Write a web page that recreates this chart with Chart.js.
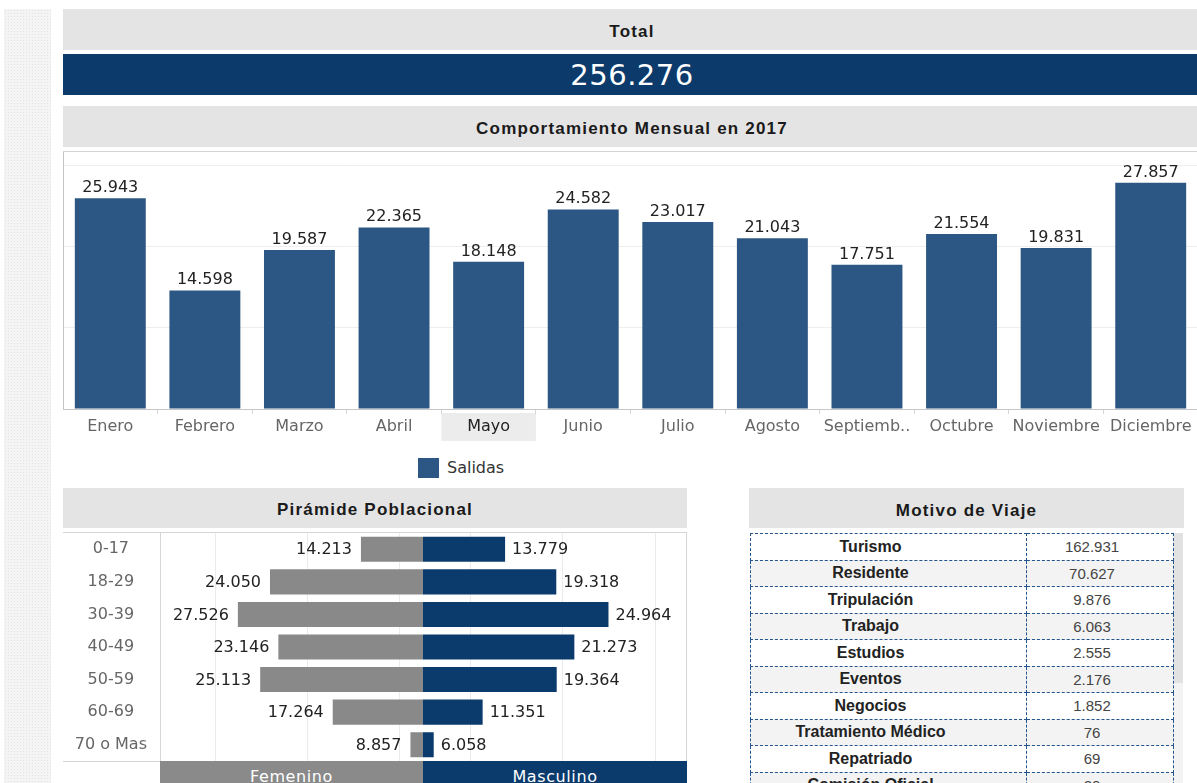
<!DOCTYPE html>
<html>
<head>
<meta charset="utf-8">
<title>Salidas 2017</title>
<script src="https://cdn.jsdelivr.net/npm/chart.js@4.4.1/dist/chart.umd.min.js"></script>
<style>
    body { margin: 0; width: 1197px; height: 783px; overflow: hidden; position: relative; background: #fff; font-family: "DejaVu Sans", sans-serif; }
    .abs { position: absolute; }
    .strip { left: 4px; top: 9px; width: 47px; height: 780px; background-color: #f4f4f4;
        background-image: radial-gradient(#e3e3e3 0.8px, transparent 1px); background-size: 3px 3px; }
    .hdr { background: #e4e4e4; font-family: "Liberation Sans", Arial, sans-serif; font-weight: bold;
        font-size: 17px; letter-spacing: 1.2px; color: #1a1a1a; text-align: center; }
    .total { left: 63px; top: 54px; width: 1138px; height: 41px; line-height: 43px; background: #0b3a6b;
        color: #fff; font-size: 29px; text-align: center; letter-spacing: 0.5px; }
    .legend-box { left: 418px; top: 458px; width: 21px; height: 20px; background: #2c5784; }
    .legend-txt { left: 447px; top: 458px; line-height: 20px; font-size: 16px; color: #333; }
    .band { top: 761px; height: 30px; line-height: 31px; color: #fff; font-size: 16px; text-align: center; letter-spacing: 0.6px; }
    canvas { position: absolute; }
    #tablaMotivo { position: absolute; left: 750px; top: 533px; width: 423px; border-collapse: collapse; table-layout: fixed; }
    #tablaMotivo td { border: 1px dashed #24548e; height: 25.5px; padding: 0; text-align: center; }
    #tablaMotivo tr:nth-child(even) td { background: #f3f3f3; }
    #tablaMotivo td.m { font: bold 16px "Liberation Sans", Arial, sans-serif; color: #222; padding-right: 36px; }
    #tablaMotivo td.v { font: 15px "Liberation Sans", Arial, sans-serif; color: #444; padding-right: 16px; }
</style>
</head>
<body>

<div class="abs strip"></div>

<div class="abs hdr" style="left:63px;top:9px;width:1138px;height:41px;line-height:45px;">Total</div>
<div class="abs total" id="totalSalidas"></div>

<div class="abs hdr" style="left:63px;top:106px;width:1138px;height:41px;line-height:45px;">Comportamiento Mensual en 2017</div>
<div class="abs" style="left:63px;top:151px;width:1135px;height:1px;background:#d3d3d3;"></div>
<canvas id="chartMensual" width="1135" height="291" style="left:63px;top:152px;"></canvas>
<div class="abs legend-box"></div>
<div class="abs legend-txt">Salidas</div>

<div class="abs hdr" style="left:63px;top:488px;width:624px;height:40px;line-height:44px;">Pirámide Poblacional</div>
<div class="abs" style="left:63px;top:532px;width:624px;height:230px;box-sizing:border-box;border-top:1px solid #d6d6d6;border-bottom:1px solid #d6d6d6;border-right:1px solid #d6d6d6;"></div>
<canvas id="chartFemenino" width="360" height="228" style="left:63px;top:533px;"></canvas>
<canvas id="chartMasculino" width="263" height="228" style="left:423px;top:533px;"></canvas>
<div class="abs band" style="left:160px;width:263px;background:#8a8a8a;">Femenino</div>
<div class="abs band" style="left:423px;width:264px;background:#0b3a6c;">Masculino</div>

<div class="abs hdr" style="left:749px;top:488px;width:435px;height:40px;line-height:45px;">Motivo de Viaje</div>
<div class="abs" style="left:1173px;top:533px;width:10px;height:150px;background:#e2e2e2;"></div>
<div class="abs" style="left:1173px;top:683px;width:10px;height:100px;background:#f3f3f3;"></div>
<table id="tablaMotivo">
    <colgroup><col style="width:276px"><col style="width:147px"></colgroup>
    <tbody></tbody>
</table>

<script>
    // DATA
    const meses = ['Enero', 'Febrero', 'Marzo', 'Abril', 'Mayo', 'Junio', 'Julio', 'Agosto', 'Septiemb..', 'Octubre', 'Noviembre', 'Diciembre'];
    const salidas = [25943, 14598, 19587, 22365, 18148, 24582, 23017, 21043, 17751, 21554, 19831, 27857];
    const mesResaltado = 'Mayo';
    const lineasMensual = [0, 10000, 20000, 30000];

    const gruposEdad = ['0-17', '18-29', '30-39', '40-49', '50-59', '60-69', '70 o Mas'];
    const femenino = [14213, 24050, 27526, 23146, 25113, 17264, 8857];
    const masculino = [13779, 19318, 24964, 21273, 19364, 11351, 6058];
    const lineasPiramide = [10000, 20000, 30000];

    const motivos = ['Turismo', 'Residente', 'Tripulación', 'Trabajo', 'Estudios', 'Eventos', 'Negocios', 'Tratamiento Médico', 'Repatriado', 'Comisión Oficial'];
    const motivoValores = [162931, 70627, 9876, 6063, 2555, 2176, 1852, 76, 69, 20];

    Chart.defaults.font.family = '"DejaVu Sans", sans-serif';
    Chart.defaults.animation = false;

    function fmt(v) {
        return String(v).replace(/\B(?=(\d{3})+(?!\d))/g, '.');
    }

    // value text next to each bar
    const valueLabels = {
        id: 'valueLabels',
        afterDatasetsDraw(chart, args, opts) {
            const ctx = chart.ctx;
            const data = chart.data.datasets[0].data;
            ctx.save();
            ctx.font = '16px "DejaVu Sans"';
            ctx.fillStyle = '#222';
            chart.getDatasetMeta(0).data.forEach(function (bar, i) {
                const txt = fmt(data[i]);
                if (opts.side === 'top') {
                    ctx.textAlign = 'center';
                    ctx.textBaseline = 'alphabetic';
                    ctx.fillText(txt, bar.x, bar.y - 6);
                } else if (opts.side === 'left') {
                    ctx.textAlign = 'right';
                    ctx.textBaseline = 'middle';
                    ctx.fillText(txt, bar.x - 9, bar.y + 1);
                } else {
                    ctx.textAlign = 'left';
                    ctx.textBaseline = 'middle';
                    ctx.fillText(txt, bar.x + 7, bar.y + 1);
                }
            });
            ctx.restore();
        }
    };

    // grey box behind the selected month label
    const labelHighlight = {
        id: 'labelHighlight',
        beforeDraw(chart, args, opts) {
            const x = chart.scales.x;
            const i = chart.data.labels.indexOf(opts.label);
            if (i < 0) return;
            const half = x.width / chart.data.labels.length / 2;
            const cx = x.getPixelForValue(i);
            chart.ctx.save();
            chart.ctx.fillStyle = '#ececec';
            chart.ctx.fillRect(cx - half, x.top + 4, half * 2, 28);
            chart.ctx.restore();
        }
    };

    document.getElementById('totalSalidas').textContent = fmt(salidas.reduce((a, b) => a + b, 0));

    // MONTHLY CHART
    new Chart(document.getElementById('chartMensual'), {
        type: 'bar',
        data: {
            labels: meses,
            datasets: [{
                label: 'Salidas',
                data: salidas,
                backgroundColor: '#2c5784',
                barPercentage: 0.75,
                categoryPercentage: 1
            }]
        },
        options: {
            responsive: false,
            layout: { padding: 0 },
            scales: {
                x: {
                    grid: { drawOnChartArea: false, tickLength: 5, color: '#d6d6d6' },
                    border: { color: '#c6c6c6' },
                    ticks: {
                        font: { size: 16 },
                        color: c => meses[c.index] === mesResaltado ? '#222' : '#666',
                        padding: 3,
                        maxRotation: 0,
                        autoSkip: false
                    },
                    afterFit: s => { s.height = 34; }
                },
                y: {
                    min: 0,
                    max: 31650,
                    afterBuildTicks: s => { s.ticks = lineasMensual.map(v => ({ value: v })); },
                    ticks: { display: false },
                    grid: { color: '#eeeeee', drawTicks: false },
                    border: { color: '#c6c6c6' },
                    afterFit: s => { s.width = 0; }
                }
            },
            plugins: {
                legend: { display: false },
                tooltip: { enabled: false },
                valueLabels: { side: 'top' },
                labelHighlight: { label: mesResaltado }
            }
        },
        plugins: [valueLabels, labelHighlight]
    });

    // PYRAMID
    function piramide(id, values, color, min, max, withLabels, side) {
        new Chart(document.getElementById(id), {
            type: 'bar',
            data: {
                labels: gruposEdad,
                datasets: [{
                    data: values,
                    backgroundColor: color,
                    barPercentage: 0.77,
                    categoryPercentage: 1
                }]
            },
            options: {
                indexAxis: 'y',
                responsive: false,
                layout: { padding: 0 },
                scales: {
                    x: {
                        reverse: side === 'left',
                        min: min,
                        max: max,
                        afterBuildTicks: s => { s.ticks = lineasPiramide.map(v => ({ value: v })); },
                        ticks: { display: false },
                        grid: { color: '#ebebeb', drawTicks: false },
                        border: { display: false },
                        afterFit: s => { s.height = 0; s.paddingLeft = 0; s.paddingRight = 0; }
                    },
                    y: {
                        display: withLabels,
                        ticks: { font: { size: 16 }, color: '#666', crossAlign: 'center', padding: 13 },
                        grid: { display: false, drawTicks: false },
                        border: { color: '#d6d6d6' },
                        afterFit: s => {
                            if (!withLabels) return;
                            s.width = 97;
                            s.paddingTop = 0;
                            s.paddingBottom = 0;
                        }
                    }
                },
                plugins: {
                    legend: { display: false },
                    tooltip: { enabled: false },
                    valueLabels: { side: side }
                }
            },
            plugins: [valueLabels]
        });
    }

    piramide('chartFemenino', femenino, '#898989', 7500, 35950, true, 'left');
    piramide('chartMasculino', masculino, '#0b3a6c', 4900, 33350, false, 'right');

    // MOTIVO DE VIAJE
    const cuerpo = document.querySelector('#tablaMotivo tbody');
    motivos.forEach(function (m, i) {
        const tr = cuerpo.insertRow();
        const a = tr.insertCell();
        a.className = 'm';
        a.textContent = m;
        const b = tr.insertCell();
        b.className = 'v';
        b.textContent = fmt(motivoValores[i]);
    });
</script>
</body>
</html>
